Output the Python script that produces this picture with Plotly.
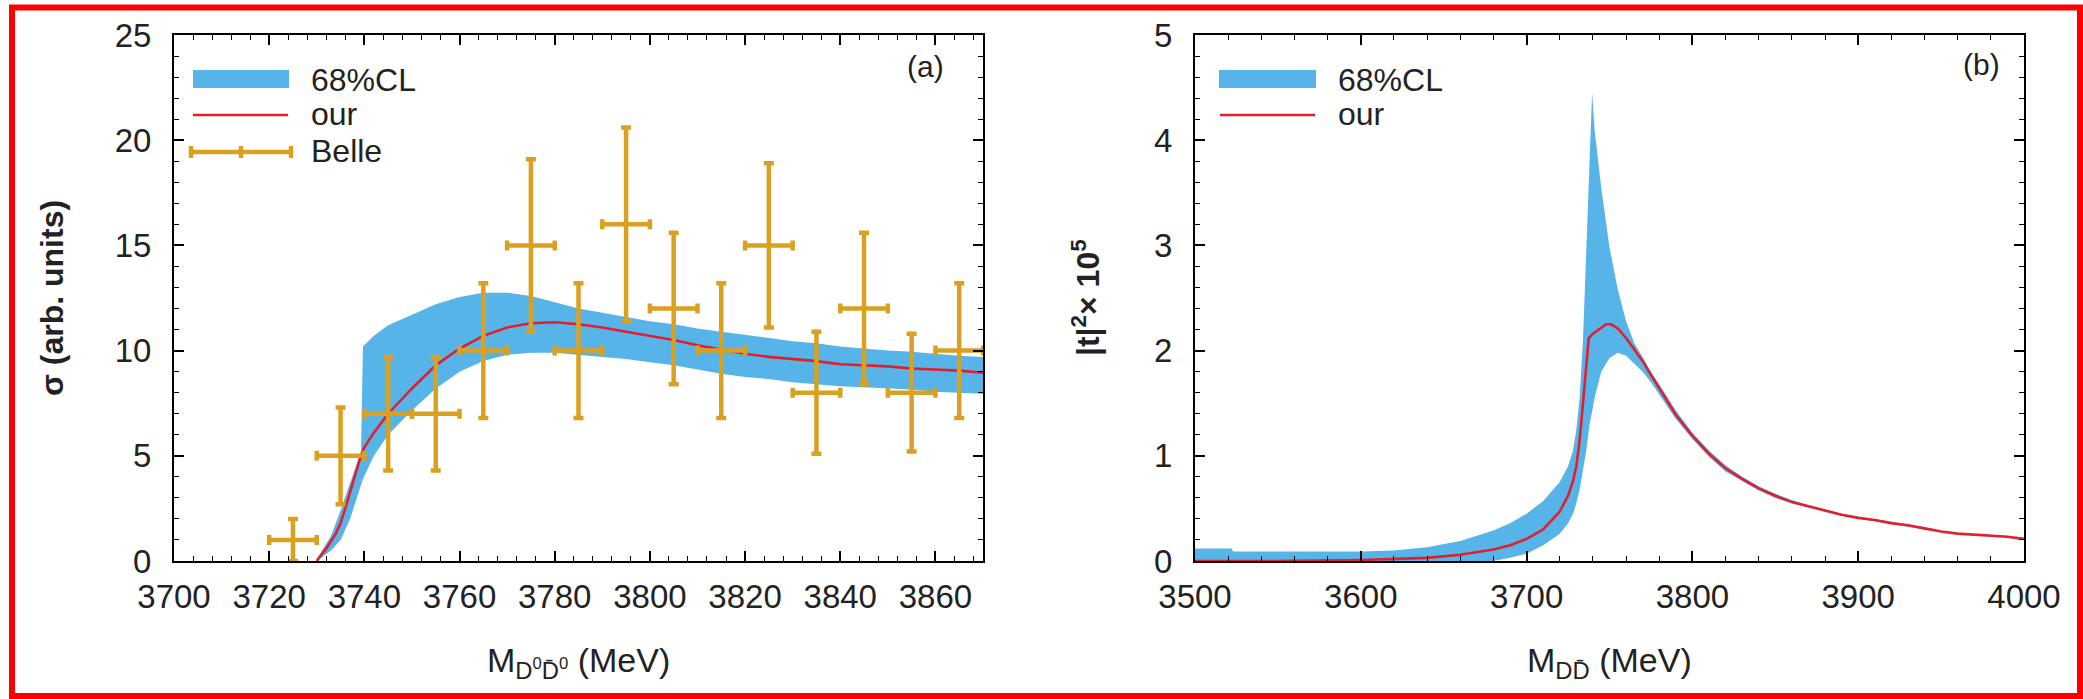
import plotly.graph_objects as go

# ---------------- data ----------------
# (a) D0 D0bar line shape: Belle points (bin centre, value, symmetric error, half bin width)
belle_m = [3725, 3735, 3745, 3755, 3765, 3775, 3785, 3795, 3805, 3815, 3825, 3835, 3845, 3855, 3865]
belle_sigma = [1, 5, 7, 7, 10, 15, 10, 16, 12, 10, 15, 8, 12, 8, 10]
belle_err = [1.0, 2.3, 2.7, 2.7, 3.2, 4.1, 3.2, 4.6, 3.6, 3.2, 3.9, 2.9, 3.6, 2.8, 3.2]
belle_halfbin = [5, 5, 5, 5, 5, 5, 5, 5, 5, 5, 5, 5, 5, 5, 5]

# (a) best fit
fit_a_m = [3730, 3732, 3734, 3735, 3736, 3737, 3738, 3739, 3740, 3742, 3745, 3750, 3755,
           3760, 3765, 3770, 3775, 3780, 3785, 3790, 3795, 3800, 3805, 3810, 3815, 3820,
           3825, 3830, 3835, 3840, 3845, 3850, 3855, 3860, 3865, 3870]
fit_a_sigma = [0.0, 0.6, 1.3, 1.8, 2.5, 3.3, 4.0, 4.8, 5.4, 6.1, 7.0, 8.2, 9.3,
               10.1, 10.7, 11.1, 11.3, 11.35, 11.25, 11.1, 10.9, 10.7, 10.5, 10.25, 10.05, 9.85,
               9.7, 9.6, 9.5, 9.35, 9.3, 9.25, 9.15, 9.1, 9.05, 8.95]

# (a) 68% CL band
band_a_m = [3730, 3733, 3735, 3737, 3739.3, 3739.7, 3742, 3745, 3750, 3755, 3760, 3765, 3770,
            3775, 3780, 3785, 3790, 3795, 3800, 3805, 3810, 3815, 3820, 3825, 3830, 3835,
            3840, 3845, 3850, 3855, 3860, 3865, 3870]
band_a_hi = [0.1, 1.2, 2.4, 3.7, 5.2, 10.2, 10.7, 11.2, 11.7, 12.2, 12.55, 12.75, 12.75,
             12.6, 12.3, 12.0, 11.8, 11.6, 11.4, 11.25, 11.05, 10.9, 10.75, 10.6, 10.45, 10.35,
             10.2, 10.1, 10.0, 9.95, 9.85, 9.75, 9.7]
band_a_lo = [0.0, 0.5, 1.0, 2.0, 3.6, 3.9, 5.0, 6.0, 7.15, 8.2, 9.0, 9.5, 9.8,
             9.9, 9.9, 9.8, 9.7, 9.6, 9.45, 9.3, 9.1, 8.9, 8.75, 8.65, 8.5, 8.4,
             8.3, 8.25, 8.2, 8.15, 8.05, 8.0, 7.95]

# (b) |t|^2 x 1e5, best fit
fit_b_m = [3500, 3550, 3600, 3620, 3640, 3660, 3680, 3690, 3700, 3710, 3720, 3725, 3728,
           3730, 3732, 3734, 3736, 3737.5, 3740, 3745, 3748, 3751, 3755, 3760, 3765, 3770,
           3775, 3780, 3790, 3800, 3810, 3820, 3830, 3840, 3850, 3860, 3870, 3880, 3890,
           3900, 3910, 3920, 3930, 3940, 3950, 3960, 3970, 3980, 3990, 4000]
fit_b_t2 = [0.0, 0.0, 0.01, 0.02, 0.03, 0.06, 0.11, 0.15, 0.21, 0.30, 0.47, 0.62, 0.76,
            0.90, 1.15, 1.50, 1.90, 2.12, 2.16, 2.22, 2.25, 2.25, 2.21, 2.12, 2.01, 1.90,
            1.77, 1.64, 1.39, 1.19, 1.02, 0.88, 0.78, 0.69, 0.62, 0.56, 0.52, 0.48, 0.44,
            0.41, 0.39, 0.36, 0.34, 0.31, 0.28, 0.26, 0.25, 0.24, 0.23, 0.21]

# (b) 68% CL band
band_b_m = [3500, 3522, 3523, 3560, 3600, 3620, 3640, 3660, 3680, 3690, 3700, 3710, 3720,
            3725, 3728, 3730, 3732, 3734, 3736, 3738, 3739.5, 3741, 3743, 3745, 3750, 3755,
            3760, 3765, 3770, 3775, 3780, 3790, 3800, 3810, 3820, 3830, 3840, 3850, 3860,
            3870, 3880, 3890, 3900, 3920, 3940]
band_b_hi = [0.12, 0.12, 0.09, 0.09, 0.09, 0.10, 0.13, 0.19, 0.29, 0.36, 0.45, 0.57, 0.75,
             0.90, 1.05, 1.25, 1.55, 2.10, 3.00, 3.90, 4.45, 4.10, 3.80, 3.55, 2.98, 2.58,
             2.28, 2.07, 1.94, 1.80, 1.68, 1.43, 1.22, 1.05, 0.91, 0.80, 0.71, 0.64, 0.58,
             0.53, 0.49, 0.45, 0.42, 0.37, 0.32]
band_b_lo = [0.0, 0.0, 0.0, 0.0, 0.0, 0.0, 0.0, 0.0, 0.0, 0.03, 0.07, 0.15, 0.26,
             0.36, 0.45, 0.55, 0.68, 0.85, 1.05, 1.30, 1.42, 1.55, 1.68, 1.80, 1.93, 1.98,
             1.95, 1.88, 1.80, 1.70, 1.58, 1.35, 1.16, 0.99, 0.85, 0.76, 0.67, 0.60, 0.55,
             0.51, 0.47, 0.43, 0.40, 0.35, 0.30]

# ---------------- style ----------------
W, H = 2083, 699
BAND = "#56B4E9"
RED = "#E0202C"
GOLD = "#DAA020"
FONT = "Liberation Sans, Arial, sans-serif"
TXT = "#222222"


def px(x):
    return x / W


def py(y):
    return 1 - y / H


fig = go.Figure()

# panel (a)
fig.add_trace(go.Scatter(
    x=band_a_m + band_a_m[::-1], y=band_a_hi + band_a_lo[::-1],
    fill="toself", fillcolor=BAND, line=dict(width=0), mode="lines",
    hoverinfo="skip", showlegend=False, xaxis="x", yaxis="y"))
fig.add_trace(go.Scatter(
    x=fit_a_m, y=fit_a_sigma, mode="lines", line=dict(color=RED, width=2.6),
    showlegend=False, xaxis="x", yaxis="y"))
fig.add_trace(go.Scatter(
    x=belle_m, y=belle_sigma, mode="markers", marker=dict(size=1, color=GOLD),
    error_y=dict(type="data", array=belle_err, color=GOLD, thickness=4.5, width=5),
    error_x=dict(type="data", array=belle_halfbin, color=GOLD, thickness=4.5, width=5),
    showlegend=False, xaxis="x", yaxis="y"))

# panel (b)
fig.add_trace(go.Scatter(
    x=band_b_m + band_b_m[::-1], y=band_b_hi + band_b_lo[::-1],
    fill="toself", fillcolor=BAND, line=dict(width=0), mode="lines",
    hoverinfo="skip", showlegend=False, xaxis="x2", yaxis="y2"))
fig.add_trace(go.Scatter(
    x=fit_b_m, y=fit_b_t2, mode="lines", line=dict(color=RED, width=2.6),
    showlegend=False, xaxis="x2", yaxis="y2"))

axis_common = dict(
    showline=True, linecolor="black", linewidth=2, mirror="ticks",
    ticks="inside", ticklen=10, tickwidth=1.5, tickcolor="black",
    showgrid=False, zeroline=False, automargin=False,
    tickfont=dict(family=FONT, size=33, color=TXT),
)

fig.update_layout(
    width=W, height=H,
    margin=dict(l=0, r=0, t=0, b=0),
    paper_bgcolor="white", plot_bgcolor="white",
    xaxis=dict(domain=[px(174), px(983)], range=[3700, 3870], tick0=3700, dtick=20,
               minor=dict(dtick=4, ticks="inside", ticklen=5, tickwidth=1.2, tickcolor="black"),
               ticklabelstandoff=5, anchor="y", **axis_common),
    yaxis=dict(domain=[py(561), py(35)], range=[0, 25], dtick=5,
               minor=dict(dtick=1, ticks="inside", ticklen=5, tickwidth=1.2, tickcolor="black"),
               ticklabelstandoff=14, anchor="x", **axis_common),
    xaxis2=dict(domain=[px(1195), px(2024)], range=[3500, 4000], tick0=3500, dtick=100,
                minor=dict(dtick=20, ticks="inside", ticklen=5, tickwidth=1.2, tickcolor="black"),
                ticklabelstandoff=5, anchor="y2", **axis_common),
    yaxis2=dict(domain=[py(561), py(35)], range=[0, 5], dtick=1,
                minor=dict(dtick=0.2, ticks="inside", ticklen=5, tickwidth=1.2, tickcolor="black"),
                ticklabelstandoff=14, anchor="x2", **axis_common),
)

shapes = []
annotations = []

# outer frame
shapes.append(dict(type="rect", xref="paper", yref="paper",
                   x0=px(12), x1=px(2080), y0=py(696), y1=py(7.5),
                   line=dict(color="#FF0000", width=6)))

# legend (a)
shapes.append(dict(type="rect", xref="paper", yref="paper",
                   x0=px(193), x1=px(289), y0=py(88), y1=py(70),
                   fillcolor=BAND, line=dict(width=0)))
shapes.append(dict(type="line", xref="paper", yref="paper",
                   x0=px(193), x1=px(288), y0=py(115), y1=py(115),
                   line=dict(color=RED, width=2.6)))
shapes.append(dict(type="line", xref="paper", yref="paper",
                   x0=px(191), x1=px(291), y0=py(152), y1=py(152),
                   line=dict(color=GOLD, width=4.5)))
for xc in (191, 241, 291):
    shapes.append(dict(type="line", xref="paper", yref="paper",
                       x0=px(xc), x1=px(xc), y0=py(146), y1=py(158),
                       line=dict(color=GOLD, width=4.5)))

# legend (b)
shapes.append(dict(type="rect", xref="paper", yref="paper",
                   x0=px(1219), x1=px(1316), y0=py(88), y1=py(70),
                   fillcolor=BAND, line=dict(width=0)))
shapes.append(dict(type="line", xref="paper", yref="paper",
                   x0=px(1220), x1=px(1315), y0=py(115), y1=py(115),
                   line=dict(color=RED, width=2.6)))


def label(text, x, y, size=32, xanchor="left", angle=0, bold=False):
    annotations.append(dict(
        text=f"<b>{text}</b>" if bold else text, xref="paper", yref="paper",
        x=px(x), y=py(y), xanchor=xanchor, yanchor="middle", showarrow=False,
        textangle=angle, font=dict(family=FONT, size=size, color=TXT)))


label("68%CL", 309, 80)
label("our", 309, 114)
label("Belle", 309, 151)
label("68%CL", 1336, 80)
label("our", 1336, 114)
label("(a)", 925, 66, size=30, xanchor="center")
label("(b)", 1981, 64, size=30, xanchor="center")

# axis titles
label("M<sub>D<sup>0</sup>D\u0304<sup>0</sup></sub> (MeV)", 578, 662, size=34, xanchor="center")
label("M<sub>DD\u0304</sub> (MeV)", 1609, 662, size=34, xanchor="center")
label("σ (arb. units)", 52, 298, size=32, xanchor="center", angle=-90, bold=True)
label("|t|<sup>2</sup>× 10<sup>5</sup>", 1086, 298, size=32, xanchor="center", angle=-90, bold=True)

fig.update_layout(shapes=shapes, annotations=annotations)

fig.write_html("out.html")
